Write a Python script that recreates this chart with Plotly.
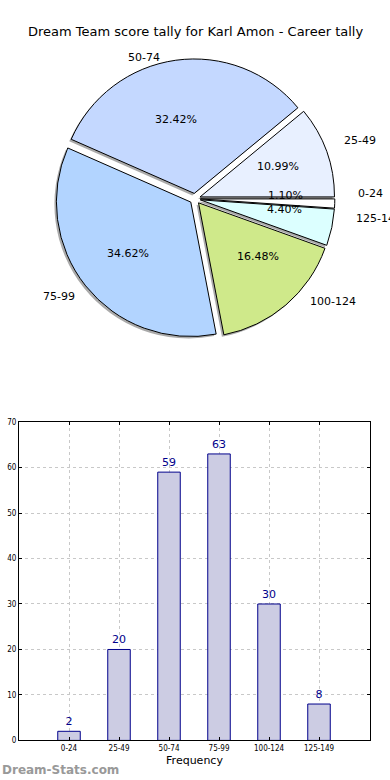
import math
import plotly.graph_objects as go

categories = ["0-24", "25-49", "50-74", "75-99", "100-124", "125-149"]
counts = [2, 20, 59, 63, 30, 8]
pie_colors = ["#ffffff", "#e8f0ff", "#c4d8ff", "#b2d4ff", "#cfe98a", "#dcffff"]
title_text = "Dream Team score tally for Karl Amon - Career tally"

W, H = 390, 780
cx, cy = 195, 197          # pie centre in pixels
r_pie = 136
pull = 0.04
rx, ry = 141, 128          # label ellipse radii (matches reference layout)

def px(x):
    return x / W

def py(y):
    return 1 - y / H

fig = go.Figure()

dom_h = 2 * r_pie * (1 + pull) / H
# shadow
fig.add_trace(go.Pie(
    labels=categories, values=counts, sort=False, direction="counterclockwise",
    rotation=90, pull=[pull] * len(counts),
    marker=dict(colors=["rgba(100,100,100,0.55)"] * len(counts), line=dict(width=0)),
    textinfo="none", hoverinfo="skip", showlegend=False,
    domain=dict(x=[0, 0.99], y=[py(cy + 2) - dom_h / 2, py(cy + 2) + dom_h / 2]),
))
fig.add_trace(go.Pie(
    labels=categories, values=counts, sort=False, direction="counterclockwise",
    rotation=90, pull=[pull] * len(counts),
    marker=dict(colors=pie_colors, line=dict(color="black", width=1)),
    textinfo="none", showlegend=False,
    domain=dict(x=[0, 1], y=[py(cy) - dom_h / 2, py(cy) + dom_h / 2]),
))

annotations = []
total = sum(counts)
cum = 0
for cat, v in zip(categories, counts):
    frac = v / total
    mid = (cum + frac / 2) * 2 * math.pi
    cum += frac
    c, s = math.cos(mid), math.sin(mid)
    lx = cx + (1.1 + pull) * rx * c
    ly = cy - (1.1 + pull) * ry * s
    annotations.append(dict(
        x=px(lx), y=py(ly), xref="paper", yref="paper", text=cat, showarrow=False,
        xanchor="left" if c > 0 else "right", yanchor="middle",
        font=dict(family="DejaVu Sans", size=11, color="black")))
    tx = cx + (0.6 + pull) * rx * c
    ty = cy - (0.6 + pull) * ry * s
    annotations.append(dict(
        x=px(tx), y=py(ty), xref="paper", yref="paper", text=f"{frac*100:.2f}%",
        showarrow=False, xanchor="center", yanchor="middle",
        font=dict(family="DejaVu Sans", size=11, color="black")))

annotations.append(dict(
    x=0.5, y=py(28), xref="paper", yref="paper", text=title_text, showarrow=False,
    xanchor="center", yanchor="middle", font=dict(family="DejaVu Sans", size=13, color="black")))
annotations.append(dict(
    x=0, y=py(775), xref="paper", yref="paper", text="<b>Dream-Stats.com</b>", showarrow=False,
    xanchor="left", yanchor="middle", font=dict(family="DejaVu Sans", size=12, color="#999999")))

fig.add_trace(go.Bar(
    x=list(range(len(categories))), y=counts, width=0.45,
    marker=dict(color="#ccccE3", line=dict(color="#00008b", width=1)),
    text=[str(v) for v in counts], textposition="outside", cliponaxis=False,
    textfont=dict(family="DejaVu Sans", size=11, color="#00008b"),
    showlegend=False, xaxis="x", yaxis="y",
))

fig.update_layout(
    width=W, height=H, margin=dict(l=0, r=0, t=0, b=0),
    paper_bgcolor="white", plot_bgcolor="white",
    annotations=annotations,
    xaxis=dict(domain=[px(19), px(370)], range=[-1, 6.02],
               tickvals=list(range(len(categories))), ticktext=categories,
               showgrid=True, gridcolor="#c8c8c8", griddash="dot", gridwidth=1,
               showline=True, linecolor="black", linewidth=1, mirror="ticks",
               ticks="inside", ticklen=3, tickcolor="black",
               tickfont=dict(family="DejaVu Sans Condensed, DejaVu Sans", size=8, color="black"),
               title=dict(text="Frequency", font=dict(family="DejaVu Sans", size=11, color="black"),
                          standoff=4),
               zeroline=False, fixedrange=True),
    yaxis=dict(domain=[py(745), py(423)], range=[0, 70], dtick=10,
               showgrid=True, gridcolor="#c8c8c8", griddash="dot", gridwidth=1,
               showline=True, linecolor="black", linewidth=1, mirror="ticks",
               ticks="inside", ticklen=3, tickcolor="black",
               tickfont=dict(family="DejaVu Sans Condensed, DejaVu Sans", size=8, color="black"),
               zeroline=False, fixedrange=True),
)

fig.write_html("out.html", config={"displayModeBar": False},
               post_script="document.body.style.margin='0';document.body.style.overflow='hidden';")
